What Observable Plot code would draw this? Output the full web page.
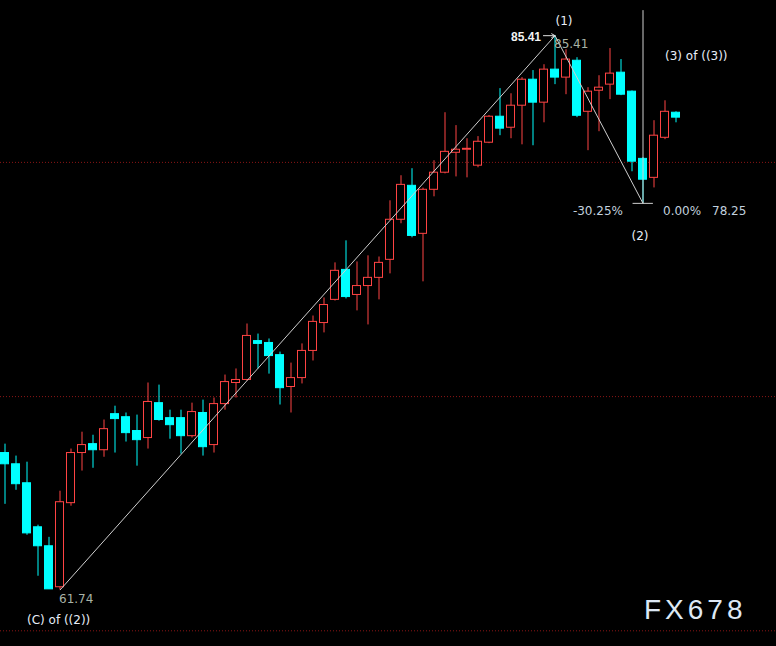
<!DOCTYPE html>
<html>
<head>
<meta charset="utf-8">
<script src="https://cdn.jsdelivr.net/npm/d3@7"></script>
<script src="https://cdn.jsdelivr.net/npm/@observablehq/plot@0.6"></script>
<style>
  html, body { margin: 0; padding: 0; background: #000; }
  #chart { width: 776px; height: 646px; overflow: hidden; }
</style>
</head>
<body>
<div id="chart"></div>
<script>
// OHLC values (one candle per period)
const opens  = [67.59,67.11,66.30,64.42,63.61,61.86,65.45,67.59,67.97,67.71,69.25,69.12,68.53,68.23,69.72,69.08,69.08,68.31,69.30,67.93,69.68,70.58,70.71,72.37,72.29,71.77,70.41,70.79,71.95,73.14,74.13,75.41,74.34,74.72,75.07,75.84,77.55,79.00,76.95,78.83,79.56,80.41,80.54,79.86,80.84,81.95,81.48,82.42,83.53,82.55,83.96,83.62,84.34,82.16,83.06,83.32,83.83,83.02,80.15,79.34,81.05,82.12];
const highs  = [67.97,67.46,67.20,64.51,63.99,65.96,67.76,68.48,68.35,69.00,69.59,69.30,69.21,70.58,70.49,69.42,69.42,69.72,69.85,69.94,70.92,71.18,73.10,72.67,72.46,71.90,71.43,72.25,73.44,74.21,75.71,76.65,75.75,76.01,75.96,78.36,79.43,79.73,78.90,80.07,82.12,81.57,81.01,81.10,82.00,83.15,82.93,83.62,83.92,84.17,85.41,84.81,84.47,83.19,83.70,84.86,84.39,83.05,80.20,81.78,82.63,82.16];
const lows   = [65.40,66.00,64.08,62.33,61.78,61.74,65.32,66.82,66.94,67.41,67.59,68.06,67.03,67.76,68.95,68.18,67.54,68.23,67.46,67.59,69.42,69.94,70.66,71.18,70.96,69.64,69.30,70.54,71.52,72.72,74.08,74.17,73.66,73.06,74.13,75.24,77.38,76.78,74.90,78.53,79.51,79.38,79.34,79.77,80.80,81.14,81.01,80.75,80.71,81.69,83.32,82.89,81.91,80.50,81.31,82.68,82.85,79.60,78.25,78.91,80.97,81.69];
const closes = [67.11,66.26,64.16,63.61,61.77,65.49,67.59,67.93,67.71,68.61,69.04,68.44,68.14,69.77,69.00,68.78,68.31,69.34,67.84,69.68,70.62,70.71,72.59,72.25,71.73,70.36,70.79,71.95,73.19,73.91,75.37,74.25,74.72,75.07,75.71,77.55,79.04,76.86,78.83,79.56,80.45,80.54,80.58,80.88,81.95,81.44,82.42,83.53,82.55,83.96,83.62,84.39,81.99,83.02,83.19,83.79,82.89,80.03,79.26,81.14,82.16,81.91];

// price grid levels
const gridLevels = [80, 70, 60];

// wave pivots (candle index, price)
const pivotC = {i: 5, p: 61.74};   // (C) of ((2))
const pivot1 = {i: 50, p: 85.41};  // (1)
const pivot2 = {i: 58, p: 78.25};  // (2)
const topPrice = 86.5;

const UP = "#ff4444", DOWN = "#00ffff", LINE = "#cfcfcf";

const candles = opens.map((o, i) => ({
  i, open: o, high: highs[i], low: lows[i], close: closes[i],
  up: closes[i] >= o
}));

const labelFont = "DejaVu Sans, Verdana, sans-serif";

const plot = Plot.plot({
  width: 776,
  height: 646,
  margin: 0,
  style: {background: "#000", fontFamily: labelFont, overflow: "hidden"},
  x: {type: "linear", domain: [-4.5 / 11, (776 - 4.5) / 11], axis: null},
  y: {domain: [59.33, 86.912], axis: null},
  marks: [
    Plot.ruleY(gridLevels, {stroke: "#8a1515", strokeDasharray: "1,2", strokeWidth: 1}),
    // wicks
    Plot.ruleX(candles, {x: "i", y1: "low", y2: "high", stroke: d => d.up ? UP : DOWN, strokeWidth: 1}),
    // bodies
    Plot.rect(candles, {
      x1: d => d.i - 0.364, x2: d => d.i + 0.364,
      y1: "open", y2: "close",
      fill: d => d.up ? "#000" : DOWN,
      stroke: d => d.up ? UP : DOWN,
      strokeWidth: 1
    }),
    // wave lines
    Plot.link([{a: pivotC, b: pivot1}, {a: pivot1, b: pivot2}], {
      x1: d => d.a.i, y1: d => d.a.p, x2: d => d.b.i, y2: d => d.b.p,
      stroke: LINE, strokeWidth: 1
    }),
    // vertical marker at (2)
    Plot.link([pivot2], {x1: "i", x2: "i", y1: "p", y2: () => topPrice, stroke: LINE, strokeWidth: 1}),
    Plot.link([pivot2], {x1: d => d.i - 0.95, x2: d => d.i + 0.9, y1: "p", y2: "p", stroke: LINE, strokeWidth: 1}),
    // arrow to peak
    Plot.arrow([pivot1], {x1: d => d.i - 1.05, x2: "i", y1: "p", y2: "p", stroke: "#e0e0e0", strokeWidth: 1, headLength: 6, bend: false}),
    // labels
    Plot.text([pivot1], {x: "i", y: "p", text: d => d.p.toFixed(2), textAnchor: "end", dx: -14, dy: 1, fill: "#f2f2f2", fontWeight: "bold", fontSize: 12, fontFamily: "Liberation Sans, Arial, sans-serif"}),
    Plot.text([pivot1], {x: "i", y: "p", text: d => d.p.toFixed(2), textAnchor: "start", dx: -1, dy: 8, fill: "#a9b3a6", fontSize: 12}),
    Plot.text([pivot1], {x: "i", y: "p", text: () => "(1)", dx: 9, dy: -15, fill: "#e8eef8", fontSize: 12}),
    Plot.text([pivot2], {x: "i", y: () => pivot1.p, text: () => "(3) of ((3))", textAnchor: "start", dx: 22, dy: 20, fill: "#e8eef8", fontSize: 12}),
    Plot.text([pivot2], {x: "i", y: "p", text: () => "-30.25%", textAnchor: "end", dx: -20, dy: 8, fill: "#c2d0de", fontSize: 12}),
    Plot.text([pivot2], {x: "i", y: "p", text: () => "0.00%", textAnchor: "start", dx: 20, dy: 8, fill: "#c2d0de", fontSize: 12}),
    Plot.text([pivot2], {x: "i", y: "p", text: d => d.p.toFixed(2), textAnchor: "start", dx: 69, dy: 8, fill: "#c2d0de", fontSize: 12}),
    Plot.text([pivot2], {x: "i", y: "p", text: () => "(2)", dx: -3, dy: 33, fill: "#e8eef8", fontSize: 12}),
    Plot.text([pivotC], {x: "i", y: "p", text: d => d.p.toFixed(2), textAnchor: "start", dx: -1, dy: 9, fill: "#a9b3a6", fontSize: 12}),
    Plot.text([pivotC], {x: "i", y: "p", text: () => "(C) of ((2))", textAnchor: "start", dx: -33, dy: 30, fill: "#e8eef8", fontSize: 12}),
    // watermark
    Plot.text(["FX678"], {frameAnchor: "bottom-right", text: d => d, textAnchor: "end", lineAnchor: "middle", dx: -30, dy: -36, fill: "#dde8f5", fontSize: 28, fontFamily: "Liberation Sans, Arial, sans-serif"})
  ]
});
document.getElementById("chart").appendChild(plot);
// letter spacing for the watermark
d3.select(plot).selectAll("text").filter(function() { return this.textContent === "FX678"; }).attr("letter-spacing", "4px");
</script>
</body>
</html>
